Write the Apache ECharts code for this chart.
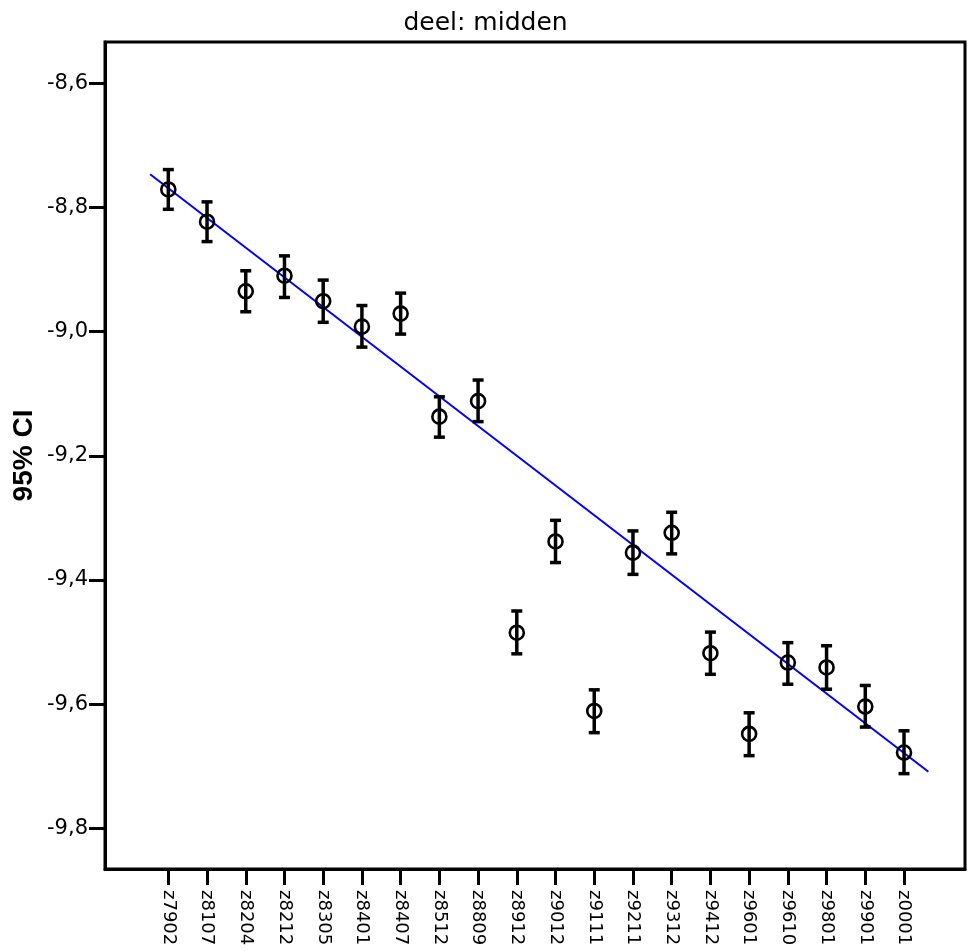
<!DOCTYPE html>
<html>
<head>
<meta charset="utf-8">
<script src="https://cdn.jsdelivr.net/npm/echarts@6/dist/echarts.min.js"></script>
<style>
html,body{margin:0;padding:0;background:#fff;}
#chart{width:971px;height:951px;}
</style>
</head>
<body>
<div id="chart"></div>
<script>
// ---- data ----
const categories = ['z7902','z8107','z8204','z8212','z8305','z8401','z8407','z8512','z8809','z8912',
                    'z9012','z9111','z9211','z9312','z9412','z9601','z9610','z9801','z9901','z0001'];
const means = [-8.771,-8.823,-8.935,-8.910,-8.951,-8.992,-8.971,-9.137,-9.112,-9.485,
               -9.338,-9.611,-9.356,-9.324,-9.518,-9.648,-9.533,-9.541,-9.604,-9.678];
const upper = [-8.739,-8.791,-8.902,-8.878,-8.917,-8.958,-8.938,-9.105,-9.078,-9.450,
               -9.304,-9.577,-9.321,-9.291,-9.484,-9.614,-9.501,-9.506,-9.570,-9.643];
const lower = [-8.803,-8.855,-8.968,-8.945,-8.985,-9.025,-9.004,-9.170,-9.145,-9.519,
               -9.372,-9.646,-9.391,-9.358,-9.552,-9.683,-9.568,-9.576,-9.637,-9.712];
// fitted regression line end points (x in category-index units)
const fitX = [-0.47, 19.63];
const fitY = [-8.7466, -9.7089];
const yTicks = [-8.6,-8.8,-9.0,-9.2,-9.4,-9.6,-9.8];
const titleText = 'deel: midden';
const yName = '95% CI';

// ---- build ----
const idx = categories.map((c,i)=>i);
const pts = idx.map(i=>[i, means[i]]);
const bars = idx.map(i=>[i, lower[i], upper[i]]);

const chart = echarts.init(document.getElementById('chart'), null, {renderer:'canvas'});
chart.setOption({
  animation:false,
  backgroundColor:'#fff',
  title:{text:titleText,left:'center',top:6,
    textStyle:{fontFamily:'DejaVu Sans',fontSize:25,fontWeight:'normal',color:'#000'}},
  grid:{left:105,right:6,top:42,bottom:82,show:true,borderColor:'#000',borderWidth:3,
        containLabel:false,outerBoundsMode:'none'},
  xAxis:{type:'value',min:-1.635,max:20.575,
    axisLine:{show:true,onZero:false,lineStyle:{color:'#000',width:3}},
    splitLine:{show:false},
    axisTick:{show:true,length:16,lineStyle:{color:'#000',width:3},customValues:idx},
    axisLabel:{show:true,customValues:idx,rotate:-90,margin:21,color:'#000',
      fontFamily:'DejaVu Sans',fontSize:18,
      formatter:v=>categories[Math.round(v)]}},
  yAxis:{type:'value',min:-9.8656,max:-8.5335,
    name:yName,nameLocation:'middle',nameGap:67,nameRotate:90,nameMoveOverlap:false,
    nameTextStyle:{fontFamily:'Liberation Sans',fontWeight:'bold',fontSize:28,color:'#000'},
    axisLine:{show:true,onZero:false,lineStyle:{color:'#000',width:3}},
    splitLine:{show:false},
    axisTick:{show:true,length:16,lineStyle:{color:'#000',width:3},customValues:yTicks},
    axisLabel:{show:true,customValues:yTicks,margin:17,color:'#000',
      fontFamily:'DejaVu Sans',fontSize:21,
      formatter:v=>v.toFixed(1).replace('.',',')}},
  series:[
    {type:'line',data:[[fitX[0],fitY[0]],[fitX[1],fitY[1]]],symbol:'none',
      lineStyle:{color:'#0000ff',width:2},z:2,silent:true},
    {type:'custom',data:bars,z:3,
      renderItem:function(params,api){
        const x=api.value(0);
        const pTop=api.coord([x,api.value(2)]);
        const pBot=api.coord([x,api.value(1)]);
        const hw=5.5;
        const st={stroke:'#000',lineWidth:3.5};
        return {type:'group',children:[
          {type:'line',shape:{x1:pTop[0],y1:pTop[1],x2:pBot[0],y2:pBot[1]},style:st},
          {type:'line',shape:{x1:pTop[0]-hw,y1:pTop[1],x2:pTop[0]+hw,y2:pTop[1]},style:st},
          {type:'line',shape:{x1:pBot[0]-hw,y1:pBot[1],x2:pBot[0]+hw,y2:pBot[1]},style:st}
        ]};
      }},
    {type:'scatter',data:pts,symbol:'circle',symbolSize:14,z:4,
      itemStyle:{color:'rgba(0,0,0,0)',borderColor:'#000',borderWidth:2.6,opacity:1}}
  ]
});
</script>
</body>
</html>
